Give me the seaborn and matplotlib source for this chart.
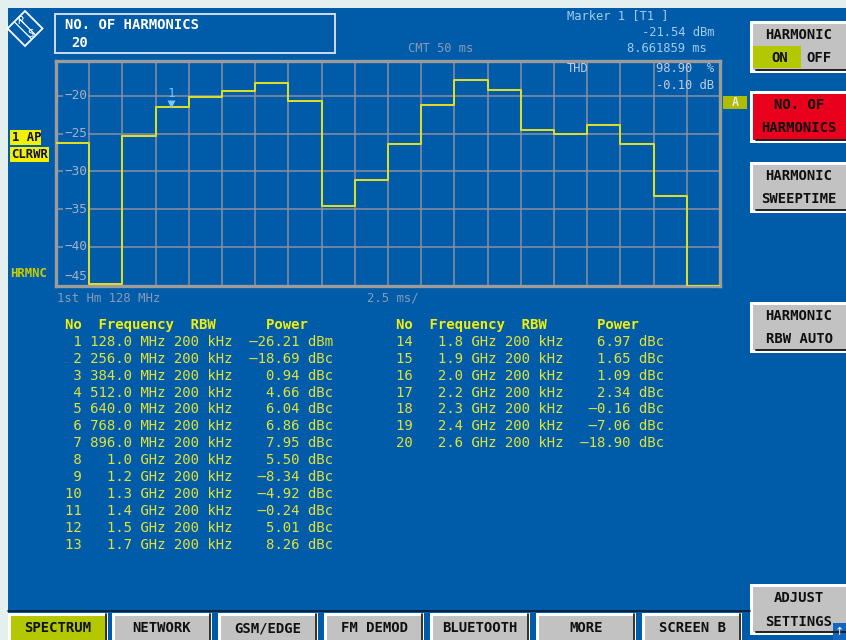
import numpy as np
import pandas as pd
import matplotlib
matplotlib.use("Agg")
import matplotlib.pyplot as plt
from matplotlib.patches import Rectangle, Polygon
from matplotlib.lines import Line2D
import matplotlib.transforms as mtransforms
import seaborn as sns

# ---------------- data ----------------
harmonic_no = list(range(1, 21))
freq_mhz = [128, 256, 384, 512, 640, 768, 896, 1000, 1200, 1300,
            1400, 1500, 1700, 1800, 1900, 2000, 2200, 2300, 2400, 2600]
rbw_label = "200 kHz"
power_value = [-26.21, -18.69, 0.94, 4.66, 6.04, 6.86, 7.95, 5.50, -8.34, -4.92,
               -0.24, 5.01, 8.26, 6.97, 1.65, 1.09, 2.34, -0.16, -7.06, -18.90]
power_unit = ["dBm"] + ["dBc"] * 19
# trace level of each harmonic segment (dBm)
trace_level_dbm = [-26.21, -44.90, -25.27, -21.55, -20.17, -19.35, -18.26, -20.71,
                   -34.55, -31.13, -26.45, -21.20, -17.95, -19.24, -24.56, -25.12,
                   -23.87, -26.37, -33.27, -45.11]
time_per_div_ms = 2.5
ytick_values = [-20, -25, -30, -35, -40, -45]
marker_time_ms = 8.661859
marker_level_dbm = -21.54
thd_percent = 98.90
thd_db = -0.10
softkeys = [["HARMONIC", "ON OFF"], ["NO. OF", "HARMONICS"], ["HARMONIC", "SWEEPTIME"],
            ["HARMONIC", "RBW AUTO"], ["ADJUST", "SETTINGS"]]
tabs = ["SPECTRUM", "NETWORK", "GSM/EDGE", "FM DEMOD", "BLUETOOTH", "MORE", "SCREEN B"]

# ---------------- style ----------------
sns.set_style("dark")
plt.rcParams["font.family"] = ["DejaVu Sans Mono", "DejaVu Sans"]

W, H = 846, 640
BLUE = "#005CA8"
BORDER = "#E4F0F0"
GRID = "#8C90A2"
FRAME = "#9C9C9C"
TRACE = "#DEDC28"
TABLE_YEL = "#E2E238"
HEAD_YEL = "#F0EE10"
MARK_BLUE = "#A4CAEC"
GREY_TXT = "#8A9AB6"
TICK_TXT = "#A8B0C4"
KEY_GREY = "#C2C2C2"
OLIVE = "#B4C800"
RED = "#E8001C"

fig = plt.figure(figsize=(W / 100, H / 100), dpi=100, facecolor=BORDER)


def rect(x0, y0, x1, y1, **kw):
    r = Rectangle((x0 / W, 1 - y1 / H), (x1 - x0) / W, (y1 - y0) / H,
                  transform=fig.transFigure, **kw)
    fig.add_artist(r)
    return r


def ft(x, y, s, **kw):
    kw.setdefault("va", "center")
    return fig.text(x / W, 1 - y / H, s, **kw)


def hline(x0, x1, y, **kw):
    fig.add_artist(Line2D([x0 / W, x1 / W], [1 - y / H, 1 - y / H],
                          transform=fig.transFigure, **kw))


# blue screen
rect(8, 8, W, H, facecolor=BLUE, edgecolor="none", zorder=0)

# ---------------- plot ----------------
ax_l, ax_r, ax_t, ax_b = 56, 720, 60.7, 286
ax = fig.add_axes([ax_l / W, 1 - ax_b / H, (ax_r - ax_l) / W, (ax_b - ax_t) / H])
ax.set_facecolor(BLUE)

n = len(harmonic_no)
df = pd.DataFrame({
    "time_ms": [i * time_per_div_ms for i in range(n + 1)],
    "level_dbm": trace_level_dbm + [trace_level_dbm[-1]],
})
sns.lineplot(data=df, x="time_ms", y="level_dbm", drawstyle="steps-post",
             color=TRACE, lw=1.45, estimator=None, ax=ax, zorder=4)

ax.set_xlim(0, n * time_per_div_ms)
ax.set_ylim(-45.17, -15.37)
ax.set_xticks(np.arange(0, n * time_per_div_ms + 0.01, time_per_div_ms))
ax.set_yticks([v for v in ytick_values if v > -45])
ax.grid(True, color=GRID, lw=1.1)
ax.tick_params(length=0, labelleft=False, labelbottom=False)
ax.set_xlabel("")
ax.set_ylabel("")
for s in ax.spines.values():
    s.set_visible(True)
    s.set_color(FRAME)
    s.set_linewidth(2.4)

trans = mtransforms.blended_transform_factory(ax.transAxes, ax.transData)
for v in ytick_values:
    dy = 8 if v == -45 else 0
    ax.annotate(f"{v}".replace("-", "\u2212"), xy=((87 - ax_l) / (ax_r - ax_l), v),
                xycoords=trans, xytext=(0, dy), textcoords="offset pixels",
                ha="right", va="center", color=TICK_TXT, fontsize=9.2,
                bbox=dict(facecolor=BLUE, edgecolor="none", pad=0.6), zorder=5)

# marker
ax.plot([marker_time_ms], [marker_level_dbm], marker="v", ms=6,
        color="#7CC4F0", markeredgecolor="none", zorder=6,
        transform=ax.transData + mtransforms.ScaledTranslation(0, 3.5 / 100, fig.dpi_scale_trans))
ax.annotate("1", xy=(marker_time_ms, marker_level_dbm), xytext=(0, 14),
            textcoords="offset pixels", ha="center", va="center",
            color="#7CC4F0", fontsize=9, zorder=6)

# THD readout inside the plot
ft(567, 69, "THD", color="#C0CCE0", fontsize=8.7, ha="left")
ft(714, 69, f"{thd_percent:.2f}  %", color="#C0CCE0", fontsize=8.7, ha="right")
ft(714, 85.5, f"{thd_db:.2f} dB", color="#C0CCE0", fontsize=8.7, ha="right")

# ---------------- header ----------------
rect(55, 14.3, 335, 53.3, facecolor="none", edgecolor="#D0DCF0", lw=1.4)
ft(65, 25, "NO. OF HARMONICS", color="white", fontsize=10, fontweight="bold", ha="left")
ft(71, 43, f"{n}", color="white", fontsize=10, fontweight="bold", ha="left")

ft(567, 16, "Marker 1 [T1 ]", color=MARK_BLUE, fontsize=8.7, ha="left")
ft(714, 32.3, f"{marker_level_dbm:.2f} dBm", color=MARK_BLUE, fontsize=8.7, ha="right")
ft(707, 49, f"{marker_time_ms:.6f} ms", color=MARK_BLUE, fontsize=8.7, ha="right")
ft(408, 49, f"CMT {n * time_per_div_ms:g} ms", color=GREY_TXT, fontsize=8.7, ha="left")

# logo
cx, cy, r = 25, 28.5, 17.5
fig.add_artist(Polygon([((cx - r) / W, 1 - cy / H), (cx / W, 1 - (cy - r) / H),
                        ((cx + r) / W, 1 - cy / H), (cx / W, 1 - (cy + r) / H)],
                       closed=True, fill=False, edgecolor="white", lw=1.3,
                       transform=fig.transFigure))
for off in (-2.0, 2.0):
    fig.add_artist(Line2D([(cx - 8.0 + off) / W, (cx + 8.0 + off) / W],
                          [1 - (cy - 8.0 - off) / H, 1 - (cy + 8.0 - off) / H],
                          transform=fig.transFigure, color="white", lw=0.9))
ft(20.0, 21.0, "R", color="white", fontsize=7.5, ha="center")
ft(30.5, 34.0, "S", color="white", fontsize=7.5, ha="center")

# left labels
rect(10, 130, 41, 144.5, facecolor="#F0F000", edgecolor="none")
ft(12, 137.5, "1 AP", color="#101040", fontsize=8.8, fontweight="bold", ha="left")
rect(10, 146.5, 49, 161.5, facecolor="#F0F000", edgecolor="none")
ft(11, 154, "CLRWR", color="#101040", fontsize=8.8, fontweight="bold", ha="left")
ft(10, 273.5, "HRMNC", color="#C8D000", fontsize=8.8, fontweight="bold", ha="left")

# "A" flag
rect(723, 95.7, 747, 109.3, facecolor="#B0BC00", edgecolor="none")
ft(735, 102.5, "A", color="#E8E8E8", fontsize=8.5, fontweight="bold", ha="center")

# bottom axis annotations
ft(57, 298, "1st Hm 128 MHz", color=GREY_TXT, fontsize=8.8, ha="left")
ft(367, 298, f"{time_per_div_ms:g} ms/", color=GREY_TXT, fontsize=8.8, ha="left")

# ---------------- table ----------------
row_step = 16.94


def fmt_freq(mhz):
    if mhz < 1000:
        return f"{mhz:>5.1f} MHz"
    return f"{mhz / 1000:>5.1f} GHz"


def table(x0, idx):
    ft(x0, 325, "No  Frequency  RBW      Power", color=HEAD_YEL, fontsize=10.1,
       fontweight="bold", ha="left")
    for k, i in enumerate(idx):
        line = f"{harmonic_no[i]:>2} {fmt_freq(freq_mhz[i])} {rbw_label} {power_value[i]:>7.2f} {power_unit[i]}"
        ft(x0, 341.7 + k * row_step, line.replace("-", "\u2013"), color=TABLE_YEL,
           fontsize=10.1, ha="left")


table(65, range(0, 13))
table(396, range(13, 20))

# ---------------- softkeys ----------------
def softkey(y0, y1, lines, fill, text_color="#101010"):
    rect(750, y0, W + 2, y1, facecolor="white", edgecolor="none")
    rect(753, y0 + 3.3, W + 2, y1 - 3.3, facecolor=fill, edgecolor="none")
    hline(756, W, y1 - 3.0, color="#202020", lw=1.4)
    ft(799, y0 + 14.5, lines[0], color=text_color, fontsize=10, fontweight="bold", ha="center")
    ft(799, y0 + 37.5, lines[1], color=text_color, fontsize=10, fontweight="bold", ha="center")


# HARMONIC ON/OFF
rect(750, 20.7, W + 2, 72.7, facecolor="white", edgecolor="none")
rect(753, 24, W + 2, 69.5, facecolor=KEY_GREY, edgecolor="none")
rect(753, 45.7, 801, 68.3, facecolor=OLIVE, edgecolor="none")
hline(756, W, 69.7, color="#202020", lw=1.4)
ft(799, 35, softkeys[0][0], color="#101010", fontsize=10, fontweight="bold", ha="center")
ft(780, 58.5, "ON", color="#101010", fontsize=10, fontweight="bold", ha="center")
ft(819, 58.5, "OFF", color="#101010", fontsize=10, fontweight="bold", ha="center")

softkey(90.7, 143.3, softkeys[1], RED)
softkey(161.7, 213.3, softkeys[2], KEY_GREY)
softkey(301.7, 353, softkeys[3], KEY_GREY)

# ---------------- bottom tabs ----------------
hline(8, 750, 611.3, color="#0A1A30", lw=1.2)
tab_x0 = [8, 112, 218, 324, 430, 536, 642]
for x0, label in zip(tab_x0, tabs):
    x1 = x0 + 100
    rect(x0, 612.5, x1, H + 2, facecolor="white", edgecolor="none")
    rect(x0 + 3.3, 616, x1 - 3.3, H + 2, facecolor=OLIVE if label == "SPECTRUM" else KEY_GREY,
         edgecolor="none")
    fig.add_artist(Line2D([(x1 - 2.2) / W] * 2, [1 - 614 / H, 0],
                          transform=fig.transFigure, color="#202020", lw=1.3))
    ft((x0 + x1) / 2, 628.5, label, color="#101010", fontsize=10, fontweight="bold", ha="center")

softkey(584, 635, softkeys[4], KEY_GREY)
rect(833, 623, W + 2, H + 2, facecolor="#1466C0", edgecolor="none")
ft(839.5, 632, "\u2191", color="white", fontsize=8, ha="center", family="DejaVu Sans")

fig.savefig("out.png", dpi=100, facecolor=BORDER)
